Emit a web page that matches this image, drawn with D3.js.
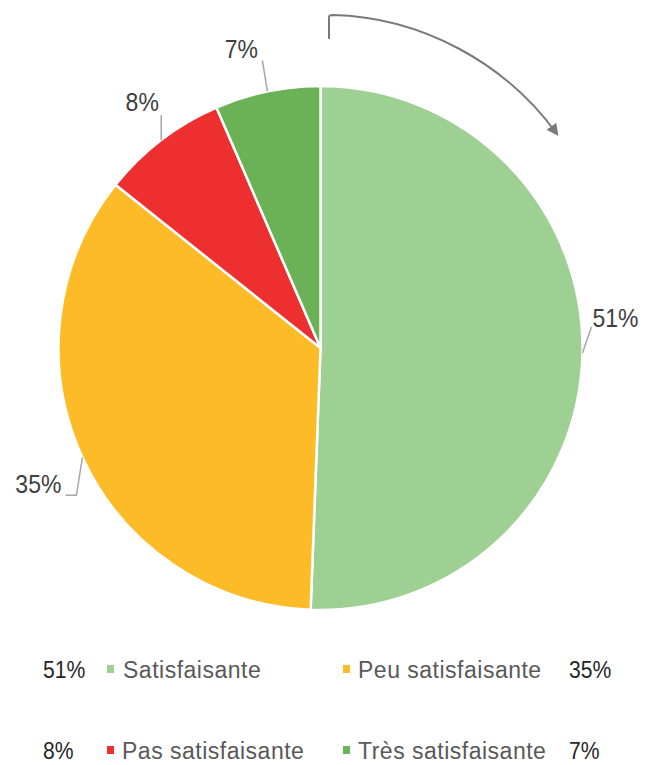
<!DOCTYPE html>
<html><head><meta charset="utf-8">
<script src="https://cdn.jsdelivr.net/npm/d3@7"></script>
<style>body{margin:0;background:#fff}svg{display:block}text{font-family:"Liberation Sans",Arial,sans-serif}</style>
</head><body>
<script>
const categories = ["Satisfaisante", "Peu satisfaisante", "Pas satisfaisante", "Très satisfaisante"];
const values = [50.6, 35.1, 7.8, 6.5];
const pctLabels = ["51%", "35%", "8%", "7%"];
const colors = ["#9DD092", "#FDBB27", "#EE2F2F", "#6BB155"];

const W = 645, H = 765;
const cx = 320.5, cy = 348, R = 262;
const svg = d3.select("body").append("svg").attr("width", W).attr("height", H);

const pie = d3.pie().sort(null).value(d => d).startAngle(0).endAngle(2 * Math.PI);
const arcs = pie(values);
const arc = d3.arc().innerRadius(0).outerRadius(R);
const g = svg.append("g").attr("transform", `translate(${cx},${cy})`);
g.selectAll("path.slice").data(arcs).enter().append("path")
  .attr("d", arc).attr("fill", (d, i) => colors[i])
  .attr("stroke", "#fff").attr("stroke-width", 2.5).attr("stroke-linejoin", "round");

// data labels with leader lines (layout per slice)
const labelLayout = [
  {elbow: [[9, -26]], text: [10, -26], anchor: "start"},
  {elbow: [[-6, 38], [-17, 38]], text: [-21, 36], anchor: "end"},
  {elbow: [[0, -25]], text: [-19, -29], anchor: "middle"},
  {elbow: [[-5, -31]], text: [-26, -33], anchor: "middle"}
];
arcs.forEach((d, i) => {
  const a = (d.startAngle + d.endAngle) / 2;
  const px = Math.sin(a) * R, py = -Math.cos(a) * R;
  const L = labelLayout[i];
  const pts = [[px, py]].concat(L.elbow.map(e => [px + e[0], py + e[1]]));
  g.append("path").attr("d", d3.line()(pts)).attr("fill", "none")
    .attr("stroke", "#a6a6a6").attr("stroke-width", 1.5);
  g.append("text")
    .attr("transform", `translate(${px + L.text[0]},${py + L.text[1]}) scale(0.92,1)`)
    .attr("text-anchor", L.anchor).attr("font-size", 25).attr("fill", "#404040")
    .text(pctLabels[i]);
});

// direction arrow
const defs = svg.append("defs");
defs.append("marker").attr("id", "ah").attr("viewBox", "0 0 10 10").attr("refX", 8).attr("refY", 5)
  .attr("markerWidth", 6).attr("markerHeight", 6).attr("markerUnits", "strokeWidth").attr("orient", "auto")
  .append("path").attr("d", "M0,0 L10,5 L0,10 Z").attr("fill", "#7a7a7a");
const ap = d3.path();
ap.moveTo(329, 39); ap.lineTo(329, 17); ap.quadraticCurveTo(329, 15, 333, 15);
ap.bezierCurveTo(420, 17, 505, 62, 557, 134);
svg.append("path").attr("d", ap.toString()).attr("fill", "none")
  .attr("stroke", "#7a7a7a").attr("stroke-width", 2).attr("marker-end", "url(#ah)");

// legend
const legPos = [
  {x: 43, y: 678, sq: 107, tx: 123},
  {x: 569, y: 678, sq: 343, tx: 358},
  {x: 43, y: 759, sq: 107, tx: 122},
  {x: 569, y: 759, sq: 343, tx: 358}
];
categories.forEach((c, i) => {
  const p = legPos[i];
  svg.append("text").attr("transform", `translate(${p.x},${p.y}) scale(0.88,1)`)
    .attr("font-size", 24).attr("fill", "#262626").text(pctLabels[i]);
  svg.append("rect").attr("x", p.sq).attr("y", p.y - 13).attr("width", 7).attr("height", 8).attr("fill", colors[i]);
  svg.append("text").attr("x", p.tx).attr("y", p.y).attr("font-size", 23)
    .attr("letter-spacing", 0.5).attr("fill", "#595959").text(c);
});
</script>
</body></html>
